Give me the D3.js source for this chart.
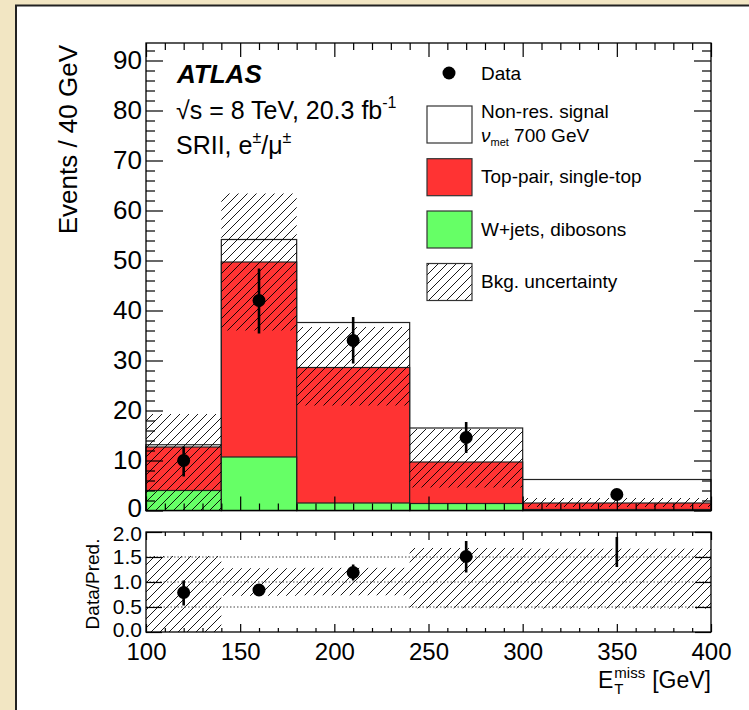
<!DOCTYPE html>
<html><head><meta charset="utf-8">
<script src="https://cdn.jsdelivr.net/npm/d3@7"></script>
<style>
html,body{margin:0;padding:0;background:#f2e6c3;}
svg{display:block;}
text{font-family:"Liberation Sans",Arial,Helvetica,sans-serif;fill:#000;}
</style></head><body>
<svg id="c" width="749" height="710"></svg>
<script>
// ---------------- data ----------------
const binEdges = [100, 140, 180, 240, 300, 400];
const wjets    = [4.0, 10.7, 1.5, 1.4, 0.2];      // W+jets, dibosons
const topPair  = [8.7, 39.0, 27.1, 8.3, 1.3];     // Top-pair, single-top
const signal   = [0.45, 4.5, 9.0, 6.8, 4.7];      // Non-res. signal (stacked on top)
const bandLo   = [0.0, 36.0, 21.0, 4.6, 0.7];     // Bkg. uncertainty lower edge
const bandHi   = [19.3, 63.4, 36.7, 16.3, 2.5];   // Bkg. uncertainty upper edge
const dataX    = [120, 160, 210, 270, 350];
const dataY    = [10.0, 42.0, 34.0, 14.6, 3.2];
const dataLo   = [6.8, 35.4, 29.4, 11.5, 2.7];
const dataHi   = [12.8, 48.4, 38.7, 17.7, 3.7];
const ratioY   = [0.79, 0.84, 1.19, 1.51, 2.13];
const ratioLo  = [0.53, 0.84, 1.03, 1.19, 1.30];
const ratioHi  = [1.03, 0.84, 1.35, 1.82, 1.90];
const xMajor   = [100, 150, 200, 250, 300, 350, 400];
const yMajor   = [0, 10, 20, 30, 40, 50, 60, 70, 80, 90];
const rMajor   = [0, 0.5, 1.0, 1.5, 2.0];
const rLines   = [0.5, 1.0, 1.5];

const svg = d3.select("#c");
// panel
svg.append("rect").attr("x",0).attr("y",0).attr("width",749).attr("height",710).attr("fill","#f2e6c3");
svg.append("rect").attr("x",16).attr("y",5).attr("width",733).attr("height",705).attr("fill","#fff");
svg.append("path").attr("d","M16,710 L16,5.5 L749,5.5").attr("fill","none").attr("stroke","#222").attr("stroke-width",2);

const defs = svg.append("defs");
const pat = defs.append("pattern").attr("id","hatch").attr("patternUnits","userSpaceOnUse")
  .attr("width",9).attr("height",9);
pat.append("path").attr("d","M0,9 L9,0 M-2,2 L2,-2 M7,11 L11,7")
  .attr("stroke","#000").attr("stroke-width",0.9);
defs.append("clipPath").attr("id","rclip").append("rect")
  .attr("x",146).attr("y",532).attr("width",565).attr("height",100);

const x  = d3.scaleLinear().domain([100,400]).range([146,711]);
const y  = d3.scaleLinear().domain([0,93.5]).range([510.5,43]);
const yr = d3.scaleLinear().domain([0,2]).range([632,532]);

const bins = binEdges.slice(0,-1).map((lo,i)=>({lo, hi:binEdges[i+1], i}));
const stackData = bins.map(b=>({wjets:wjets[b.i], top:topPair[b.i], signal:signal[b.i]}));
const series = d3.stack().keys(["wjets","top","signal"])(stackData);
const fills = {wjets:"#66ff66", top:"#ff3333", signal:"#ffffff"};

// ---------------- upper pad ----------------
const up = svg.append("g");
[2,1,0].forEach(k=>{
  const s = series[k];
  up.append("g").selectAll("rect").data(bins).join("rect")
    .attr("x",b=>x(b.lo)).attr("width",b=>x(b.hi)-x(b.lo))
    .attr("y",b=>y(s[b.i][1])).attr("height",b=>y(0)-y(s[b.i][1]))
    .attr("fill",fills[s.key]).attr("stroke","#222").attr("stroke-width",1.2);
});
up.append("g").selectAll("rect").data(bins).join("rect")
  .attr("x",b=>x(b.lo)).attr("width",b=>x(b.hi)-x(b.lo))
  .attr("y",b=>y(bandHi[b.i])).attr("height",b=>y(bandLo[b.i])-y(bandHi[b.i]))
  .attr("fill","url(#hatch)");

function axis(g, fn, scale, vals, size, fmt, fs, pad){
  const a = fn(scale).tickValues(vals).tickSizeInner(size).tickSizeOuter(0).tickPadding(pad)
    .tickFormat(fmt || (()=>""));
  g.call(a);
  g.select(".domain").remove();
  g.attr("font-family",null).attr("font-size",null);
  g.selectAll("line").attr("stroke","#000").attr("stroke-width",1.2);
  g.selectAll("text").style("font-size",fs+"px").attr("fill","#000");
  return g;
}
const xMinor = d3.range(100,401,10).filter(v=>v%50!==0);
const yMinor = d3.range(0,93,2).filter(v=>v%10!==0);
axis(up.append("g").attr("transform","translate(0,510.5)"), d3.axisBottom, x, xMajor, -14, null, 10, 0);
axis(up.append("g").attr("transform","translate(0,510.5)"), d3.axisBottom, x, xMinor, -7, null, 10, 0);
axis(up.append("g").attr("transform","translate(0,43)"), d3.axisTop, x, xMajor, -14, null, 10, 0);
axis(up.append("g").attr("transform","translate(0,43)"), d3.axisTop, x, xMinor, -7, null, 10, 0);
const yl = axis(up.append("g").attr("transform","translate(146,0)"), d3.axisLeft, y, yMajor, -17, d3.format("d"), 26, 4);
yl.selectAll("text").filter(d=>d===0).attr("dy","0.22em");
axis(up.append("g").attr("transform","translate(146,0)"), d3.axisLeft, y, yMinor, -9, null, 10, 0);
axis(up.append("g").attr("transform","translate(711,0)"), d3.axisRight, y, yMajor, -17, null, 10, 0);
axis(up.append("g").attr("transform","translate(711,0)"), d3.axisRight, y, yMinor, -9, null, 10, 0);
up.append("rect").attr("x",146).attr("y",43).attr("width",565).attr("height",y(0)-43)
  .attr("fill","none").attr("stroke","#000").attr("stroke-width",1.3);

// data points
const pts = dataX.map((v,i)=>({x:v, y:dataY[i], lo:dataLo[i], hi:dataHi[i]}));
up.append("g").selectAll("line").data(pts).join("line")
  .attr("x1",d=>x(d.x)).attr("x2",d=>x(d.x)).attr("y1",d=>y(d.lo)).attr("y2",d=>y(d.hi))
  .attr("stroke","#000").attr("stroke-width",2.6);
up.append("g").selectAll("circle").data(pts).join("circle")
  .attr("cx",d=>x(d.x)).attr("cy",d=>y(d.y)).attr("r",6.5).attr("fill","#000");

// labels
svg.append("text").attr("x",177).attr("y",83).style("font-size","26px")
  .style("font-weight","bold").style("font-style","italic").text("ATLAS");
const t1 = svg.append("text").attr("x",176).attr("y",119).style("font-size","25px");
t1.append("tspan").text("\u221As = 8 TeV, 20.3 fb");
t1.append("tspan").attr("dy",-11).style("font-size","16px").text("-1");
const t2 = svg.append("text").attr("x",176).attr("y",154).style("font-size","25px");
t2.append("tspan").text("SRII, e");
t2.append("tspan").attr("dy",-11).style("font-size","16px").text("\u00B1");
t2.append("tspan").attr("dy",11).text("/\u03BC");
t2.append("tspan").attr("dy",-11).style("font-size","16px").text("\u00B1");

// legend
const lg = svg.append("g");
lg.append("circle").attr("cx",449).attr("cy",73).attr("r",6.5).attr("fill","#000");
lg.append("text").attr("x",481).attr("y",80).style("font-size","19px").text("Data");
const legBoxes = [
  {y:106, fill:"#ffffff"},
  {y:158.7, fill:"#ff3333"},
  {y:211, fill:"#66ff66"},
  {y:263.5, fill:"url(#hatch)"}
];
lg.selectAll("rect").data(legBoxes).join("rect")
  .attr("x",427).attr("y",d=>d.y).attr("width",45).attr("height",37)
  .attr("fill",d=>d.fill).attr("stroke","#333").attr("stroke-width",1.2);
lg.append("text").attr("x",481).attr("y",118).style("font-size","19px").text("Non-res. signal");
const lt = lg.append("text").attr("x",481).attr("y",142).style("font-size","19px");
lt.append("tspan").style("font-style","italic").text("\u03BD");
lt.append("tspan").attr("dy",4).style("font-size","11px").text("met");
lt.append("tspan").attr("dy",-4).text(" 700 GeV");
lg.append("text").attr("x",481).attr("y",183).style("font-size","19px").text("Top-pair, single-top");
lg.append("text").attr("x",481).attr("y",236).style("font-size","19px").text("W+jets, dibosons");
lg.append("text").attr("x",481).attr("y",288).style("font-size","19px").text("Bkg. uncertainty");

// y title
svg.append("text").attr("transform","translate(77,45) rotate(-90)").attr("text-anchor","end")
  .style("font-size","26px").text("Events / 40 GeV");

// ---------------- ratio pad ----------------
const rp = svg.append("g");
rp.append("g").selectAll("rect").data(bins).join("rect")
  .attr("x",b=>x(b.lo)).attr("width",b=>x(b.hi)-x(b.lo))
  .attr("y",b=>yr(Math.min(2,bandHi[b.i]/(wjets[b.i]+topPair[b.i]))))
  .attr("height",b=>yr(bandLo[b.i]/(wjets[b.i]+topPair[b.i]))-yr(Math.min(2,bandHi[b.i]/(wjets[b.i]+topPair[b.i]))))
  .attr("fill","url(#hatch)");
rp.append("g").selectAll("line").data(rLines).join("line")
  .attr("x1",146).attr("x2",711).attr("y1",d=>yr(d)).attr("y2",d=>yr(d))
  .attr("stroke","#444").attr("stroke-width",1).attr("stroke-dasharray","1.5,2");
const rpts = dataX.map((v,i)=>({x:v, y:ratioY[i], lo:ratioLo[i], hi:ratioHi[i]}));
const rc = rp.append("g").attr("clip-path","url(#rclip)");
rc.selectAll("line").data(rpts).join("line")
  .attr("x1",d=>x(d.x)).attr("x2",d=>x(d.x)).attr("y1",d=>yr(d.lo)).attr("y2",d=>yr(d.hi))
  .attr("stroke","#000").attr("stroke-width",2.6);
rc.selectAll("circle").data(rpts.filter(d=>d.y<=2)).join("circle")
  .attr("cx",d=>x(d.x)).attr("cy",d=>yr(d.y)).attr("r",6.5).attr("fill","#000");

axis(rp.append("g").attr("transform","translate(0,632)"), d3.axisBottom, x, xMajor, -8, d3.format("d"), 24, 11);
axis(rp.append("g").attr("transform","translate(0,632)"), d3.axisBottom, x, xMinor, -4, null, 10, 0);
axis(rp.append("g").attr("transform","translate(0,532)"), d3.axisTop, x, xMajor, -8, null, 10, 0);
axis(rp.append("g").attr("transform","translate(0,532)"), d3.axisTop, x, xMinor, -4, null, 10, 0);
const rl = axis(rp.append("g").attr("transform","translate(146,0)"), d3.axisLeft, yr, rMajor, -16, d3.format(".1f"), 21, 4);
rl.selectAll("text").filter(d=>d===0).attr("dy","0.2em");
rl.selectAll("text").filter(d=>d===2).attr("dy","0.42em");
axis(rp.append("g").attr("transform","translate(711,0)"), d3.axisRight, yr, rMajor, -16, null, 10, 0);
rp.append("rect").attr("x",146).attr("y",532).attr("width",565).attr("height",100)
  .attr("fill","none").attr("stroke","#000").attr("stroke-width",1.3);

svg.append("text").attr("transform","translate(99,584) rotate(-90)").attr("text-anchor","middle")
  .style("font-size","19px").text("Data/Pred.");

// x title E_T^miss [GeV], right-aligned at x=711
const xt = svg.append("g");
const eT = xt.append("text").attr("y",688).style("font-size","23px").text("E");
const wE = eT.node().getComputedTextLength();
const subT = xt.append("text").attr("y",694).style("font-size","15px").text("T");
const supM = xt.append("text").attr("y",678).style("font-size","15px").text("miss");
const wS = Math.max(subT.node().getComputedTextLength(), supM.node().getComputedTextLength());
const gev = xt.append("text").attr("y",688).style("font-size","23px").text("[GeV]");
const wG = gev.node().getComputedTextLength();
const gap = 7;
const x0 = 711 - (wE + 1 + wS + gap + wG);
eT.attr("x",x0); subT.attr("x",x0+wE+1); supM.attr("x",x0+wE+1); gev.attr("x",x0+wE+1+wS+gap);
</script>
</body></html>
